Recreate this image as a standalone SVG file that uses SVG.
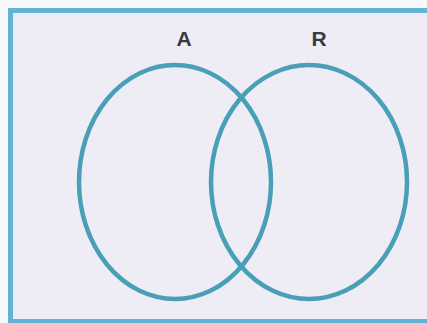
<svg xmlns="http://www.w3.org/2000/svg" width="427" height="323" viewBox="0 0 427 323">
<style>
.set{fill:none;stroke:#4a9fb8;stroke-width:4.5}
.lbl{font-family:"Liberation Sans",Arial,sans-serif;font-weight:bold;font-size:21px;fill:#3a3a3a;text-anchor:middle}
</style>
<rect x="0" y="0" width="427" height="323" fill="#f7f7fb"/>
<rect id="frame" x="10.5" y="10.5" width="425" height="311" fill="#eeedf5" stroke="#62b2d4" stroke-width="5"/>
<g id="setA"><ellipse class="set" cx="175" cy="182" rx="96" ry="117"/><text class="lbl" x="184" y="46">A</text></g>
<g id="setB"><ellipse class="set" cx="309" cy="182" rx="98" ry="117"/><text class="lbl" x="319" y="46">R</text></g>
</svg>
